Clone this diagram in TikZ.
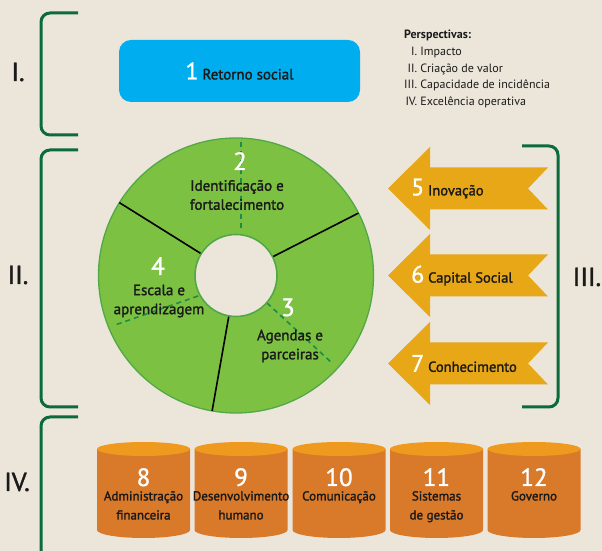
\documentclass[tikz,border=0pt]{standalone}
\usepackage{fontspec}
\setmainfont{PT Sans}
\newfontfamily\medfont[FakeBold=1.6]{PT Sans}
\newfontfamily\numfont[FakeBold=1.2]{PT Sans}
\usetikzlibrary{calc}
\definecolor{bg}{HTML}{ECE6DA}
\definecolor{brgreen}{HTML}{0B6B3A}
\definecolor{boxblue}{HTML}{00AEEF}
\definecolor{donutgreen}{HTML}{7DC142}
\definecolor{donutedge}{HTML}{52A847}
\definecolor{dashgreen}{HTML}{1D8C47}
\definecolor{arrowyellow}{HTML}{E8A716}
\definecolor{cyltop}{HTML}{F0991F}
\definecolor{cylbody}{HTML}{D9792A}
\definecolor{ink}{HTML}{1A1A1A}
\tikzset{
  bracket/.style={draw=brgreen, line width=3pt, rounded corners=9pt},
  romanlab/.style={font=\medfont\fontsize{26}{26}\selectfont, text=ink, inner sep=0pt},
  bluebox/.style={fill=boxblue, rounded corners=12pt, minimum width=241pt, minimum height=62pt, inner sep=0pt, text=ink, font=\medfont\fontsize{15}{15}\selectfont},
  bignum/.style={font=\numfont\fontsize{25}{25}\selectfont, text=white, inner sep=0pt, anchor=base},
  donutlab/.style={font=\medfont\fontsize{15}{19}\selectfont, text=ink, align=center, inner sep=0pt},
  sectorline/.style={draw=black, line width=1.6pt},
  dashline/.style={draw=dashgreen, line width=1.6pt, dash pattern=on 5pt off 4pt},
  arrowlab/.style={font=\medfont\fontsize{14.5}{14.5}\selectfont, text=ink, anchor=west, inner sep=0pt},
  cyllab/.style={font=\medfont\fontsize{13}{19}\selectfont, text=ink, align=center, anchor=north, inner sep=0pt},
  legend/.style={font=\fontsize{12}{16.7}\selectfont, text=ink, anchor=north west, inner sep=0pt},
}
\newcommand{\bnum}[1]{{\numfont\fontsize{24}{24}\selectfont\color{white}#1}}
\begin{document}
\begin{tikzpicture}[x=1pt,y=1pt]
\clip (0,0) rectangle (602,551);
\fill[bg] (0,0) rectangle (602,551);

% brackets
\draw[bracket] (78,538) -- (41,538) -- (41,416) -- (78,416);
\draw[bracket] (78,401) -- (41,401) -- (41,144) -- (78,144);
\draw[bracket] (78,134) -- (41,134) -- (41,-20);
\draw[bracket] (522,405) -- (558,405) -- (558,144) -- (522,144);
\node[romanlab] (rI) at (18,479) {I.};
\node[romanlab] (rII) at (18,276) {II.};
\node[romanlab] (rIV) at (17,69) {IV.};
\node[romanlab] (rIII) at (587,274) {III.};

% blue box
\node[bluebox] (b1) at (239.5,480) {\bnum{1}\ Retorno social};

% legend
\node[legend] (leg) at (404,524) {\renewcommand{\arraystretch}{1}\begin{tabular}{@{}r@{\ }l@{}}
\multicolumn{2}{@{}l@{}}{\bfseries Perspectivas:}\\
I. & Impacto\\
II. & Criação de valor\\
III. & Capacidade de incidência\\
IV. & Excelência operativa
\end{tabular}};

% donut
\coordinate (c) at (236,275.5);
\filldraw[fill=donutgreen, draw=donutedge, line width=1.3pt] (c) circle (137.5);
\foreach \a in {27,148,260} {
  \draw[sectorline] ($(c)+(\a:41)$) -- ($(c)+(\a:137.5)$);
}
\draw[dashline] (241,409) -- (241,321);
\draw[dashline] (198,255) -- (115,226);
\draw[dashline] (267,248) -- (332,188);
\filldraw[fill=bg, draw=donutedge, line width=1.6pt] (c) circle (41);

\node[bignum] (n2) at (240,381) {2};
\node[donutlab] (t2) at (237,356) {Identificação e\\fortalecimento};
\node[bignum] (n4) at (158,276) {4};
\node[donutlab] (t4) at (159,250) {Escala e\\aprendizagem};
\node[bignum] (n3) at (288,235) {3};
\node[donutlab] (t3) at (290,205) {Agendas e\\parceiras};

% arrows
\foreach \cy in {362.5,275.5,187.5} {
  \fill[arrowyellow] (388,\cy) -- (430,\cy+41.5) -- (430,\cy+21) -- (548,\cy+21)
    -- (528,\cy) -- (548,\cy-21) -- (430,\cy-21) -- (430,\cy-41.5) -- cycle;
}
\node[arrowlab] (a5) at (411,362.5) {\bnum{5} Inovação};
\node[arrowlab] (a6) at (411,275.5) {\bnum{6} Capital Social};
\node[arrowlab] (a7) at (411,187.5) {\bnum{7} Conhecimento};

% cylinders
\foreach \cx in {143.5,241,339,436.5,534} {
  \fill[cylbody] (\cx-46.5,102) -- (\cx-46.5,21)
    arc[start angle=180, end angle=360, x radius=46.5, y radius=8]
    -- (\cx+46.5,102) -- cycle;
  \fill[cyltop] (\cx,102) ellipse [x radius=46.5, y radius=7];
}
\node[bignum] (n8) at (143.5,65) {8};
\node[cyllab] (l8) at (143.5,60) {Administração\\financeira};
\node[bignum] (n9) at (241,65) {9};
\node[cyllab] (l9) at (241,60) {Desenvolvimento\\humano};
\node[bignum] (n10) at (339,65) {10};
\node[cyllab] (l10) at (339,60) {Comunicação};
\node[bignum] (n11) at (436.5,65) {11};
\node[cyllab] (l11) at (436.5,60) {Sistemas\\de gestão};
\node[bignum] (n12) at (534,65) {12};
\node[cyllab] (l12) at (534,60) {Governo};
\end{tikzpicture}
\end{document}
